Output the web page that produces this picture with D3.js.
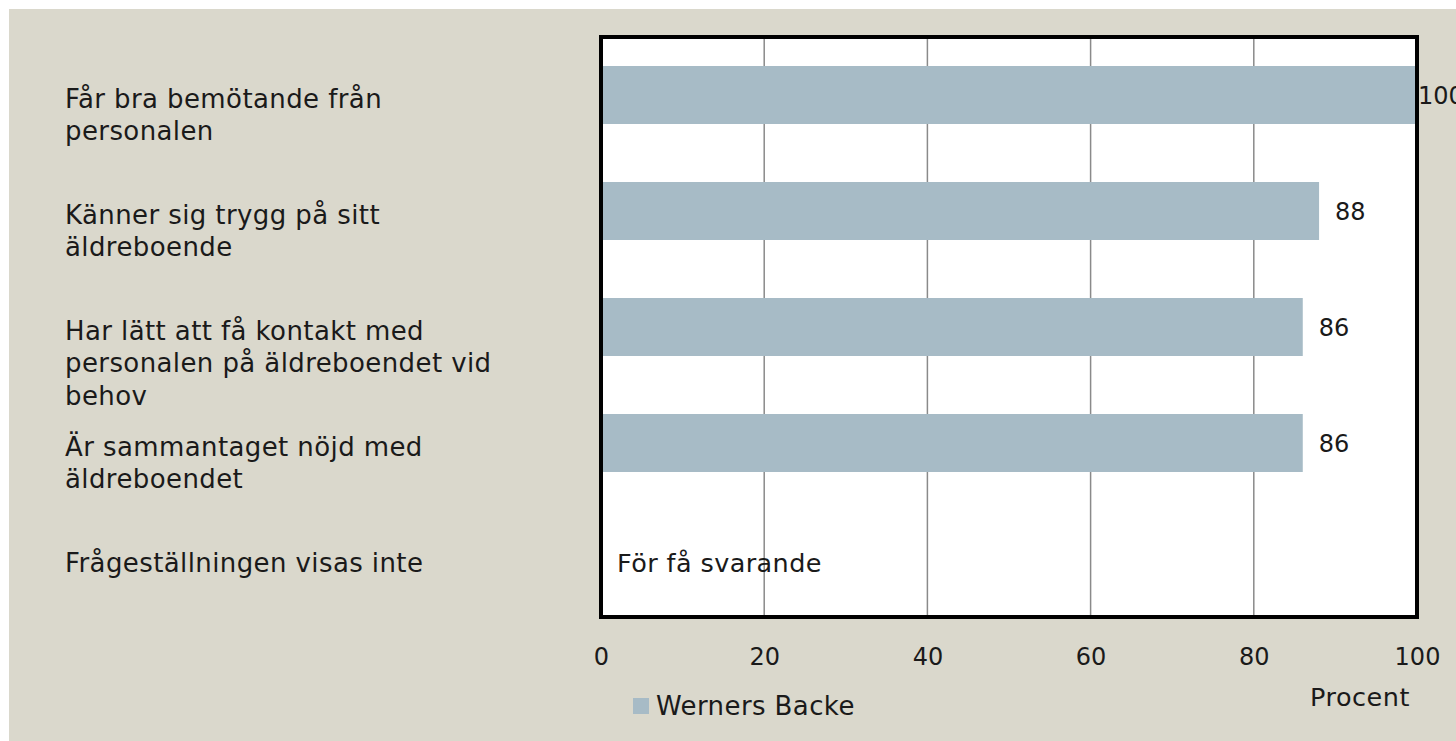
<!DOCTYPE html>
<html>
<head>
<meta charset="utf-8">
<script src="https://cdn.jsdelivr.net/npm/d3@7"></script>
<style>
  html, body { margin: 0; padding: 0; background: #ffffff; }
  svg { display: block; }
  text { font-family: "DejaVu Sans", sans-serif; fill: #1a1a1a; }
</style>
</head>
<body>
<svg id="chart" width="1456" height="741"></svg>
<script>
// ---- data ----
const categories = [
  "Får bra bemötande från personalen",
  "Känner sig trygg på sitt äldreboende",
  "Har lätt att få kontakt med personalen på äldreboendet vid behov",
  "Är sammantaget nöjd med äldreboendet",
  "Frågeställningen visas inte"
];
const categoryLines = [
  ["Får bra bemötande från", "personalen"],
  ["Känner sig trygg på sitt", "äldreboende"],
  ["Har lätt att få kontakt med", "personalen på äldreboendet vid", "behov"],
  ["Är sammantaget nöjd med", "äldreboendet"],
  ["Frågeställningen visas inte"]
];
const values = [100, 88, 86, 86, null];
const seriesName = "Werners Backe";
const tickValues = [0, 20, 40, 60, 80, 100];
const axisTitle = "Procent";
const noDataText = "För få svarande";

// ---- layout ----
const W = 1456, H = 741;
const plot = { left: 601, right: 1417, top: 37, bottom: 617 };
const svg = d3.select("#chart");

svg.append("rect").attr("x", 9).attr("y", 9).attr("width", W - 9).attr("height", H - 9)
  .attr("fill", "#DAD8CC");

const x = d3.scaleLinear().domain([0, 100]).range([plot.left, plot.right]);
const y = d3.scaleBand().domain(categories).range([plot.top, plot.bottom]).paddingInner(0.5).paddingOuter(0.25);

// plot area
svg.append("rect").attr("x", plot.left).attr("y", plot.top)
  .attr("width", plot.right - plot.left).attr("height", plot.bottom - plot.top)
  .attr("fill", "#ffffff");

// gridlines
svg.append("g").selectAll("line").data(tickValues.filter(t => t > 0 && t < 100)).join("line")
  .attr("x1", d => x(d)).attr("x2", d => x(d))
  .attr("y1", plot.top).attr("y2", plot.bottom)
  .attr("stroke", "#8a8a8a").attr("stroke-width", 1.5);

// bars
const barData = categories.map((c, i) => ({ c, v: values[i] })).filter(d => d.v != null);
svg.append("g").selectAll("rect").data(barData).join("rect")
  .attr("x", x(0)).attr("y", d => y(d.c))
  .attr("width", d => x(d.v) - x(0)).attr("height", y.bandwidth())
  .attr("fill", "#A7BBC6");

// frame
svg.append("rect").attr("x", plot.left).attr("y", plot.top)
  .attr("width", plot.right - plot.left).attr("height", plot.bottom - plot.top)
  .attr("fill", "none").attr("stroke", "#000").attr("stroke-width", 4);

// value labels
svg.append("g").selectAll("text").data(barData).join("text")
  .attr("x", d => Math.min(x(d.v) + 16, x(100) + 1))
  .attr("y", d => y(d.c) + y.bandwidth() / 2 + 9)
  .attr("font-size", 24)
  .text(d => d.v);

// no data text
categories.forEach((c, i) => {
  if (values[i] == null) {
    svg.append("text").attr("x", x(0) + 16)
      .attr("y", y(c) + y.bandwidth() / 2 + 12.5)
      .attr("font-size", 25.5).attr("letter-spacing", 0.4).text(noDataText);
  }
});

// category labels
categories.forEach((c, i) => {
  const t = svg.append("text").attr("font-size", 26).attr("letter-spacing", 0.4);
  categoryLines[i].forEach((ln, j) => {
    t.append("tspan").attr("x", 65)
      .attr("y", y(c) + y.bandwidth() / 2 + 12.5 + j * 32.5)
      .text(ln);
  });
});

// x axis tick labels
const xAxis = d3.axisBottom(x).tickValues(tickValues).tickSize(0).tickPadding(0);
const gAx = svg.append("g").call(xAxis);
gAx.select(".domain").remove();
gAx.selectAll("text")
  .attr("y", 665).attr("dy", null)
  .attr("font-size", 24)
  .attr("font-family", "DejaVu Sans, sans-serif")
  .attr("fill", "#1a1a1a");

// axis title
svg.append("text").attr("x", 1360).attr("y", 706).attr("text-anchor", "middle")
  .attr("font-size", 25.5).attr("letter-spacing", 0.5).text(axisTitle);

// legend
svg.append("rect").attr("x", 633).attr("y", 698).attr("width", 16).attr("height", 16)
  .attr("fill", "#A7BBC6");
svg.append("text").attr("x", 656).attr("y", 715).attr("font-size", 26)
  .attr("letter-spacing", 0.4).text(seriesName);
</script>
</body>
</html>
